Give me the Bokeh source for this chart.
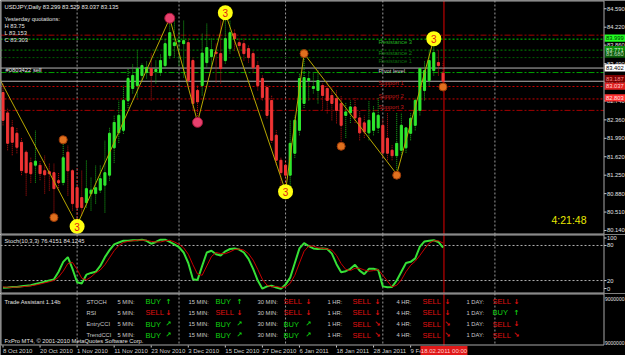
from bokeh.plotting import figure
from bokeh.models import Range1d, ColumnDataSource
from bokeh.layouts import column
from bokeh.embed import file_html
from bokeh.resources import INLINE
from bokeh.core.properties import value

# ---------------- data ----------------
symbol_line = "USDJPY,Daily  83.299 83.529 83.037 83.135"
yesterday_lines = ["Yesterday quotations:", "H 83.75", "L 83.153", "C 83.303"]
order_label = "#0803422 sell"
timer_text = "4:21:48"

bar_index = list(range(96))
open_p = [82.91, 82.50, 82.21, 82.09, 81.91, 81.71, 81.50, 81.45, 81.45, 81.34,
          81.32, 81.30, 81.14, 81.10, 81.71, 81.34, 81.00, 80.80, 80.70, 80.88,
          80.88, 80.95, 81.05, 81.25, 81.80, 82.10, 82.15, 82.75, 82.99, 83.05,
          83.25, 83.31, 83.39, 83.33, 83.31, 83.45, 83.65, 83.85, 83.93, 83.89,
          83.91, 83.55, 82.95, 83.05, 83.51, 83.63, 83.72, 83.69, 83.55, 83.79,
          84.09, 83.91, 83.89, 83.79, 83.69, 83.45, 83.19, 83.01, 82.75, 82.05,
          81.55, 81.45, 81.25, 81.69, 82.15, 82.69, 83.15, 82.99, 82.95, 83.05,
          82.99, 82.85, 82.79, 82.69, 82.45, 82.50, 82.62, 82.40, 82.30, 82.10,
          82.15, 82.20, 82.25, 81.99, 81.75, 81.64, 81.75, 81.80, 82.09, 82.25,
          82.55, 82.95, 83.15, 83.35, 83.51, 83.299]
high_p = [83.10, 82.60, 82.35, 82.20, 82.00, 81.76, 81.60, 82.15, 81.55, 81.65,
          81.50, 81.49, 81.30, 81.95, 81.85, 81.38, 81.40, 81.34, 81.55, 81.20,
          81.45, 81.45, 81.95, 82.20, 82.45, 82.75, 83.05, 83.40, 83.49, 83.75,
          83.49, 83.55, 83.69, 83.55, 83.69, 83.99, 84.40, 84.35, 84.15, 84.35,
          84.01, 83.61, 83.05, 84.10, 84.30, 84.00, 83.89, 84.35, 84.50, 84.35,
          84.19, 84.00, 84.00, 83.85, 83.75, 83.55, 83.25, 83.05, 82.85, 82.15,
          81.60, 81.55, 82.35, 82.45, 83.30, 83.69, 83.35, 83.30, 83.35, 83.09,
          83.11, 83.01, 82.95, 82.85, 82.70, 82.75, 82.80, 82.55, 82.45, 82.75,
          82.65, 82.80, 82.40, 82.50, 81.85, 82.50, 82.50, 82.20, 82.50, 82.80,
          83.40, 83.55, 83.75, 83.98, 83.75, 83.529]
low_p = [82.25, 81.75, 81.65, 81.69, 81.25, 80.84, 81.10, 81.10, 81.15, 80.88,
         80.94, 80.44, 80.95, 81.05, 80.84, 80.54, 80.25, 80.44, 80.60, 80.54,
         80.68, 80.90, 80.50, 81.14, 81.50, 81.90, 82.08, 82.60, 82.89, 82.81,
         83.15, 83.19, 82.75, 83.09, 83.25, 83.39, 83.59, 83.61, 83.45, 83.21,
         83.01, 82.55, 82.32, 82.85, 83.41, 83.45, 83.11, 83.09, 83.49, 83.69,
         83.75, 83.65, 83.55, 83.51, 83.31, 82.95, 82.75, 82.39, 81.90, 81.45,
         80.98, 80.93, 81.00, 81.60, 82.05, 82.60, 82.75, 82.89, 82.69, 82.55,
         82.49, 82.35, 82.29, 81.85, 82.00, 82.30, 82.30, 81.95, 82.00, 81.95,
         82.05, 82.10, 81.60, 81.55, 81.55, 81.27, 81.65, 81.70, 81.95, 82.15,
         82.45, 82.75, 83.05, 83.25, 83.25, 83.037]
close_p = [82.35, 81.89, 81.91, 81.81, 81.34, 81.30, 81.28, 81.53, 81.28, 81.26,
           81.28, 80.98, 81.10, 81.60, 81.34, 80.68, 80.60, 80.60, 80.98, 80.95,
           81.00, 81.18, 81.30, 82.09, 82.31, 82.45, 82.75, 83.19, 83.25, 83.39,
           83.45, 83.41, 83.25, 83.37, 83.55, 83.89, 84.11, 83.91, 83.95, 83.95,
           83.15, 82.69, 82.72, 83.70, 83.81, 83.77, 83.69, 83.39, 83.99, 84.11,
           83.99, 83.85, 83.69, 83.61, 83.41, 83.05, 82.81, 82.45, 81.95, 81.55,
           81.30, 81.25, 81.89, 82.35, 83.19, 83.21, 83.19, 83.03, 83.15, 82.85,
           82.75, 82.69, 82.55, 82.25, 82.52, 82.62, 82.40, 82.10, 82.12, 82.35,
           82.50, 82.45, 81.70, 81.69, 81.64, 81.89, 82.25, 82.20, 82.39, 82.75,
           83.39, 83.35, 83.55, 83.71, 83.45, 83.135]

stoch_title = "Stoch(10,3,3) 76.4151 84.1245"
stoch_main = [7.5, 8, 9, 9, 10, 11, 12, 14, 16, 18,
              20, 22, 35, 52, 60, 40, 17, 15, 30, 33,
              35, 45, 60, 72, 82, 85, 88, 88, 89, 89,
              90, 88, 83, 86, 90, 90, 86, 82, 77, 68,
              50, 22, 21, 45, 68, 71, 65, 63, 70, 74,
              75, 73, 68, 57, 40, 20, 6, 10, 11, 8,
              6, 13, 25, 50, 75, 84, 79, 75, 74, 75,
              74, 66, 48, 34, 36, 40, 47, 37, 31, 40,
              40, 38, 10, 8.6, 9, 20, 35, 50, 52, 58,
              78, 87, 88, 89, 86, 76.4151]
stoch_signal = [9, 8.5, 8.5, 8.7, 9.3, 10, 11, 12.3, 14, 16,
                18, 20, 26, 36, 49, 51, 39, 24, 21, 26,
                33, 38, 47, 59, 71, 80, 85, 87, 88, 89,
                89, 89, 87, 86, 86, 88, 89, 86, 82, 76,
                65, 47, 31, 29, 45, 61, 68, 66, 66, 69,
                73, 74, 72, 66, 55, 39, 22, 12, 9, 10,
                8, 9, 15, 29, 50, 70, 79, 79, 76, 75,
                74, 72, 63, 49, 39, 37, 41, 41, 38, 36,
                37, 39, 29, 19, 9, 12, 21, 35, 46, 53,
                63, 74, 84, 88, 88, 84.1245]
stoch_levels = [80, 20]
stoch_axis_values = [100, 80, 20, 0]

date_tick_bars = [0, 8, 16, 24, 32, 40, 48, 56, 64, 72, 80, 88]
date_tick_labels = ["8 Oct 2010", "20 Oct 2010", "1 Nov 2010", "11 Nov 2010",
                    "23 Nov 2010", "3 Dec 2010", "15 Dec 2010", "27 Dec 2010",
                    "6 Jan 2011", "18 Jan 2011", "28 Jan 2011", "9 Feb 2011"]
month_grid_bars = [16, 38, 61, 82, 106.2]
current_bar = 95.2
current_time_label = "18.02.2011 00:00"

price_ticks = [84.590, 84.220, 83.860, 83.490, 83.120, 82.740, 82.360,
               81.990, 81.620, 81.250, 80.880, 80.510, 80.140]

zigzag_bars = [-1, 16, 36, 42, 48, 61, 65, 85, 93]
zigzag_prices = [83.23, 80.25, 84.40, 82.32, 84.50, 80.93, 83.69, 81.27, 83.98]
wave3_bars = [16, 48, 61, 93]
wave3_prices = [80.22, 84.51, 80.92, 83.99]
pink_bars = [36, 42]
pink_prices = [84.40, 82.31]
orange_bars = [11, 13, 65, 73, 85, 95]
orange_prices = [80.40, 81.96, 83.69, 81.83, 81.25, 83.02]

level_names = ["Resistance 3", "Resistance 2", "Resistance 1", "Pivot level",
               "Support 1", "Support 2", "Support 3"]
level_prices = [83.98, 83.76, 83.61, 83.40, 83.03, 82.78, 82.55]
other_line_prices = [84.06, 83.31, 83.135]
axis_box_values = [83.999, 83.771, 83.680, 83.402, 83.187, 83.037, 82.803]

ta_title = "Trade Assistant 1.14b"
ta_rows = ["STOCH", "RSI", "EntryCCI", "TrendCCI"]
ta_frames = ["5 MIN:", "15 MIN:", "30 MIN:", "1 HR:", "4 HR:", "1 DAY:"]
ta_signals = [["BUY", "BUY", "SELL", "SELL", "SELL", "SELL"],
              ["SELL", "SELL", "SELL", "SELL", "SELL", "BUY"],
              ["BUY", "BUY", "BUY", "SELL", "SELL", "SELL"],
              ["BUY", "BUY", "BUY", "SELL", "SELL", "SELL"]]
ta_arrows = [["↑", "↑", "↓", "↓", "↓", "↓"],
             ["↓", "↓", "↓", "↓", "↓", "↑"],
             ["↗", "↗", "↗", "↘", "↘", "↓"],
             ["↗", "↗", "↗", "↘", "↘", "↘"]]
ta_scale_labels = ["9000000", "9000000"]
copyright_text = "FxPro MT4, © 2001-2010 MetaQuotes Software Corp."

# ---------------- screen geometry helpers ----------------
FONT = "Liberation Sans"
SMALL = "5.8px"
W = 625
PX_PER_BAR = 4.632
X_START = -0.54
X_END = X_START + W / PX_PER_BAR


def bx(px):
    return X_START + px / PX_PER_BAR


PRICE_TOP = 84.7556
PX_PER_PRICE = 49.83
MAIN_H = 234


def py(px):
    return PRICE_TOP - px / PX_PER_PRICE


ST_PX = 0.584
STOCH_TOP_PX = 234
STOCH_H = 59


def sy(px):
    return (291.7 - px) / ST_PX


ROW_PX = 11.33
TA_TOP_PX = 293
TA_H = 62


def ry(px):
    return (px - 301) / ROW_PX


BG = "black"
FRAME = "#a8a8a8"
GRID = "#9a9a9a"
LABEL_C = "#e0e0e0"
x_range = Range1d(X_START, X_END)
AXIS_X = bx(603.5)


def make_fig(height, y_range):
    f = figure(width=W, height=height, x_range=x_range, y_range=y_range,
               output_backend="svg", toolbar_location=None,
               x_axis_location=None, y_axis_location=None,
               min_border=0, min_border_left=0, min_border_right=0,
               min_border_top=0, min_border_bottom=0,
               background_fill_color=BG, border_fill_color=BG,
               outline_line_color=None)
    f.xgrid.visible = False
    f.ygrid.visible = False
    return f


def vgrid(f, y0, y1):
    f.segment(x0=month_grid_bars, y0=[y0] * len(month_grid_bars),
              x1=month_grid_bars, y1=[y1] * len(month_grid_bars),
              line_color=GRID, line_dash="2 2", line_width=1)
    f.segment(x0=[current_bar], y0=[y0], x1=[current_bar], y1=[y1],
              line_color="#e00000", line_width=1)


def frame_box(f, top, bottom):
    f.quad(left=[bx(0.5)], right=[AXIS_X], top=[top], bottom=[bottom],
           fill_color=None, line_color=FRAME, line_width=1)


def txt(f, xs, ys, texts, color, size=SMALL, align="left", baseline="middle",
        font=FONT, style="normal"):
    f.text(x=xs, y=ys, text=texts, text_color=color, text_font=value(font),
           text_font_size=value(size), text_align=align, text_baseline=baseline,
           text_font_style=style)


def right_ticks(f, ys, labels, tick_len_px=2.5):
    f.segment(x0=[AXIS_X] * len(ys), y0=ys, x1=[bx(603.5 + tick_len_px)] * len(ys),
              y1=ys, line_color="#c8c8c8", line_width=1)
    txt(f, [bx(606.5)] * len(ys), ys, labels, LABEL_C)


# ---------------- main price panel ----------------
main = make_fig(MAIN_H, Range1d(py(MAIN_H), py(0)))
vgrid(main, py(0), py(MAIN_H))

level_colors = ["#00d000", "#008a00", "#005a00", "#b4b4b4", "#c80000", "#c80000", "#a00000"]
level_dash = ["2 2", "2 2", "2 2", "solid", "2 2", "2 2", "6 2 2 2"]
other_colors = ["#a00000", "#00a000", "#b4b4b4"]
other_dash = ["6 2 2 2", "6 2 2 2", "solid"]
for pr, col, dsh in list(zip(level_prices, level_colors, level_dash)) + \
        list(zip(other_line_prices, other_colors, other_dash)):
    main.segment(x0=[X_START], y0=[pr], x1=[AXIS_X], y1=[pr], line_color=col,
                 line_dash=dsh, line_width=1)

up = [i for i in bar_index if close_p[i] >= open_p[i]]
dn = [i for i in bar_index if close_p[i] < open_p[i]]


def candle_src(idx):
    return ColumnDataSource(dict(
        x=[bar_index[i] for i in idx],
        top=[max(open_p[i], close_p[i]) for i in idx],
        bottom=[min(open_p[i], close_p[i]) for i in idx],
        high=[high_p[i] for i in idx],
        low=[low_p[i] for i in idx]))


for idx, wick, body in ((up, "#18b418", "#2ee82e"), (dn, "#c01010", "#f03434")):
    src = candle_src(idx)
    main.segment(x0="x", y0="low", x1="x", y1="high", source=src,
                 line_color=wick, line_width=1, line_dash="1 1")
    main.vbar(x="x", width=0.45, top="top", bottom="bottom", source=src,
              fill_color=body, line_color=body, line_width=1)

main.line(zigzag_bars, zigzag_prices, line_color="#b8a800", line_width=1)
main.scatter(orange_bars, orange_prices, size=8, fill_color="#e0701e",
             line_color="#9a3a08", line_width=1)
main.scatter(pink_bars, pink_prices, size=10, fill_color="#e8406e",
             line_color="#a01838", line_width=1)
main.scatter(wave3_bars, wave3_prices, size=15, fill_color="#ffff10", line_color=None)
txt(main, wave3_bars, wave3_prices, ["3"] * len(wave3_bars), "#e01818",
    size="10px", align="center")

txt(main, [bx(4)], [py(6)], [symbol_line], "#e8e8e8")
txt(main, [bx(4)] * len(yesterday_lines),
    [py(18 + 7 * k) for k in range(len(yesterday_lines))], yesterday_lines, LABEL_C)
txt(main, [bx(5)], [py(69.5)], [order_label], "#e8e8e8")

level_text_colors = ["#22b022", "#128012", "#0c6a0c", "#c8c8c8", "#c01818", "#c01818", "#c01818"]
for name, pr, col in zip(level_names, level_prices, level_text_colors):
    base = "top" if (name.startswith("Res") or name.startswith("Piv")) else "bottom"
    txt(main, [bx(378)], [pr], [name], col, baseline=base)

txt(main, [bx(551)], [py(219.5)], [timer_text], "#e8e800", size="10.5px")

# right price scale with value boxes
right_ticks(main, price_ticks, ["%.3f" % t for t in price_ticks])
box_bg = ["#22ff22", "#0a900a", "#0a5c0a", "#ffffff", "#7a0000", "#e02020", "#ff3030"]
box_fg = ["#003300", "#d8f0d8", "#b8d8b8", "#000000", "#ff8a8a", "#ffd8d8", "#ffe4e4"]
half_h = 3.6 / PX_PER_PRICE
main.quad(left=[bx(604)] * len(axis_box_values), right=[bx(W)] * len(axis_box_values),
          top=[v + half_h for v in axis_box_values],
          bottom=[v - half_h for v in axis_box_values],
          fill_color=box_bg, line_color=None)
main.text(x=[bx(605.5)] * len(axis_box_values), y=axis_box_values,
          text=["%.3f" % v for v in axis_box_values], text_color=box_fg,
          text_font=value(FONT), text_font_size=value(SMALL),
          text_align="left", text_baseline="middle")
frame_box(main, py(0.5), py(MAIN_H - 0.5))

# ---------------- stochastic panel ----------------
stoch = make_fig(STOCH_H, Range1d(sy(STOCH_TOP_PX + STOCH_H), sy(STOCH_TOP_PX)))
vgrid(stoch, sy(STOCH_TOP_PX), sy(STOCH_TOP_PX + STOCH_H))
for lv in stoch_levels:
    stoch.segment(x0=[X_START], y0=[lv], x1=[AXIS_X], y1=[lv], line_color="#b0b0b0",
                  line_dash="2 2", line_width=1)
stoch.line(bar_index, stoch_main, line_color="#36e036", line_width=2)
stoch.line(bar_index, stoch_signal, line_color="#c80000", line_width=1)
txt(stoch, [bx(4)], [sy(240)], [stoch_title], LABEL_C)
st_label_pos = [min(max(v, sy(288.0)), sy(237.5)) for v in stoch_axis_values]
right_ticks(stoch, st_label_pos, [str(v) for v in stoch_axis_values])
frame_box(stoch, sy(STOCH_TOP_PX + 0.5), sy(STOCH_TOP_PX + STOCH_H - 0.5))

# ---------------- trade assistant panel + date scale ----------------
ta = make_fig(TA_H, Range1d(ry(TA_TOP_PX + TA_H), ry(TA_TOP_PX)))
vgrid(ta, ry(TA_TOP_PX), ry(345))

txt(ta, [bx(4)], [0], [ta_title], LABEL_C)
col_label_px = 86
col_frame_px = [117, 188, 257, 327, 396, 466]
col_sig_px = [145, 215, 283, 352, 422, 492]
col_arrow_px = [165, 236, 305, 374, 444, 513]
lx, ly, lt = [], [], []
sx_, sy_, st_, sc_ = [], [], [], []
ax_, ay_, at_, ac_ = [], [], [], []
for r, name in enumerate(ta_rows):
    lx.append(bx(col_label_px)); ly.append(r); lt.append(name)
    for c, tf in enumerate(ta_frames):
        lx.append(bx(col_frame_px[c])); ly.append(r); lt.append(tf)
        sig = ta_signals[r][c]
        colr = "#10d010" if sig == "BUY" else "#e01010"
        sx_.append(bx(col_sig_px[c])); sy_.append(r); st_.append(sig); sc_.append(colr)
        ax_.append(bx(col_arrow_px[c])); ay_.append(r); at_.append(ta_arrows[r][c]); ac_.append(colr)
txt(ta, lx, ly, lt, "#c8c8c8")
ta.text(x=sx_, y=sy_, text=st_, text_color=sc_, text_font=value(FONT),
        text_font_size=value("7.5px"), text_align="left", text_baseline="middle")
ta.text(x=ax_, y=ay_, text=at_, text_color=ac_, text_font=value("DejaVu Sans"),
        text_font_size=value("7px"), text_font_style="bold",
        text_align="left", text_baseline="middle")
txt(ta, [bx(4)], [ry(340)], [copyright_text], LABEL_C)
frame_box(ta, ry(TA_TOP_PX + 0.5), ry(344.5))

# scale labels of the assistant window (small enough to fit the window)
txt(ta, [bx(604.5), bx(604.5)], [ry(298), ry(342)], ta_scale_labels, LABEL_C, size="5px")

# date scale
n_d = len(date_tick_bars)
ta.segment(x0=date_tick_bars, y0=[ry(345)] * n_d, x1=date_tick_bars, y1=[ry(347)] * n_d,
           line_color="#c8c8c8", line_width=1)
txt(ta, date_tick_bars, [ry(350.5)] * n_d, date_tick_labels, "#d0d0d0", size="6px")
ta.quad(left=[current_bar - 23.5 / PX_PER_BAR], right=[current_bar + 23.5 / PX_PER_BAR],
        top=[ry(345.5)], bottom=[ry(355)], fill_color="#e01818", line_color=None)
txt(ta, [current_bar], [ry(350.5)], [current_time_label], "#ffd0d0", size="6px",
    align="center")

layout = column(main, stoch, ta, spacing=0)
html = file_html(layout, INLINE, "USDJPY Daily")
open("out.html", "w").write(html)
